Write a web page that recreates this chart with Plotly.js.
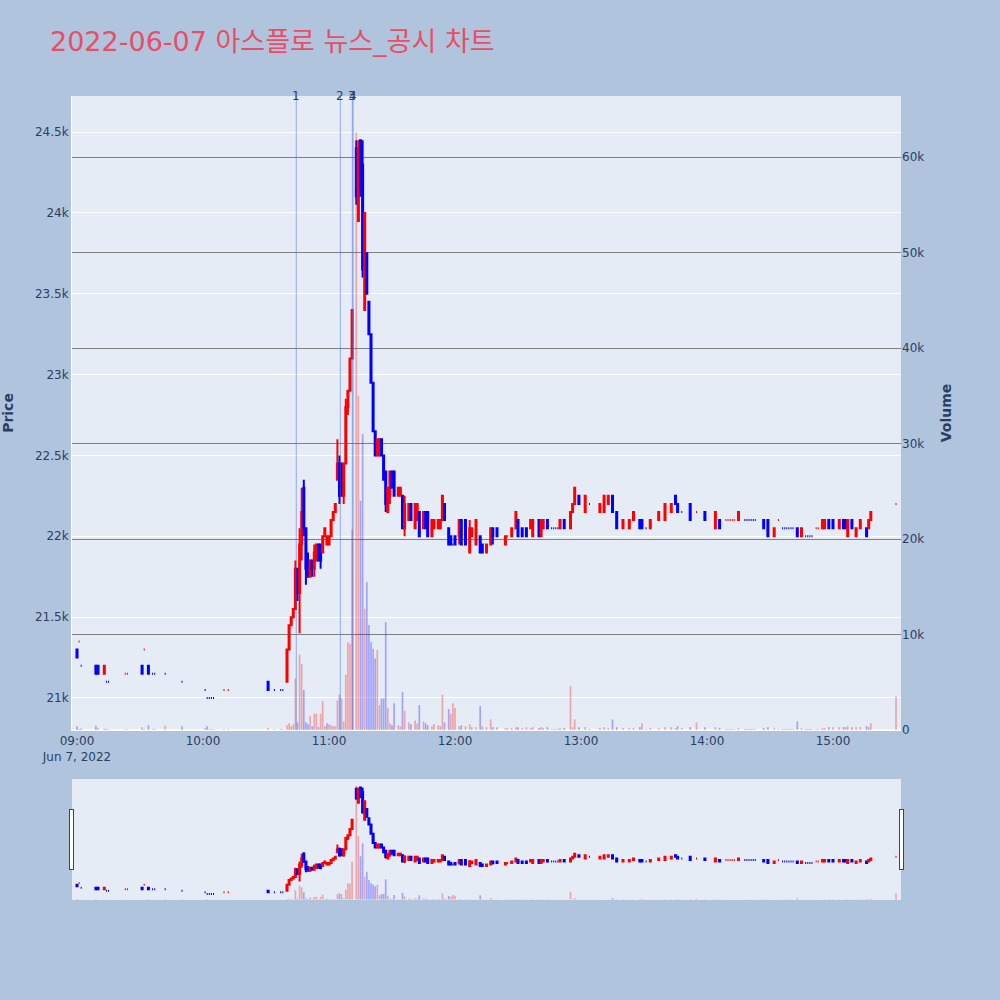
<!DOCTYPE html>
<html>
<head>
<meta charset="utf-8">
<script src="https://cdn.plot.ly/plotly-3.0.1.min.js"></script>
<style>html,body{margin:0;padding:0;background:#B0C4DE;}</style>
</head>
<body>
<div id="chart" style="width:1000px;height:1000px;"></div>
<script>
const chartTitle = '2022-06-07 아스플로 뉴스_공시 차트';
const tradeDate = '2022-06-07';

const times = [
 '09:00','09:01','09:02','09:09','09:10','09:13','09:14','09:15','09:23','09:24',
 '09:31','09:32','09:34','09:36','09:37','09:42','09:50','10:01','10:02','10:03',
 '10:04','10:05','10:10','10:12','10:31','10:34','10:37','10:38','10:40','10:41',
 '10:42','10:43','10:44','10:45','10:46','10:47','10:48','10:49','10:50','10:51',
 '10:52','10:53','10:54','10:55','10:56','10:57','10:58','10:59','11:00','11:01',
 '11:02','11:03','11:04','11:05','11:06','11:07','11:08','11:09','11:10','11:11',
 '11:13','11:14','11:15','11:16','11:17','11:18','11:19','11:20','11:21','11:22',
 '11:23','11:24','11:25','11:26','11:27','11:28','11:29','11:30','11:31','11:33',
 '11:34','11:35','11:36','11:38','11:39','11:41','11:42','11:43','11:45','11:46',
 '11:47','11:49','11:50','11:52','11:53','11:54','11:55','11:57','11:58','11:59',
 '12:00','12:02','12:03','12:05','12:07','12:08','12:10','12:12','12:13','12:15',
 '12:17','12:18','12:20','12:24','12:25','12:27','12:29','12:30','12:32','12:34',
 '12:36','12:37','12:40','12:41','12:42','12:44','12:46','12:47','12:48','12:49',
 '12:50','12:52','12:55','12:56','12:57','12:59','13:02','13:04','13:09','13:11',
 '13:13','13:15','13:17','13:20','13:23','13:25','13:28','13:29','13:31','13:33',
 '13:37','13:40','13:43','13:45','13:46','13:48','13:52','13:55','13:59','14:04',
 '14:06','14:09','14:10','14:11','14:12','14:13','14:15','14:18','14:19','14:20',
 '14:21','14:22','14:23','14:27','14:29','14:32','14:34','14:36','14:37','14:38',
 '14:39','14:40','14:41','14:43','14:45','14:47','14:48','14:49','14:50','14:52',
 '14:53','14:55','14:56','14:58','15:00','15:03','15:05','15:06','15:07','15:09',
 '15:11','15:13','15:16','15:17','15:18','15:30'
];
const opens = [
 21300,21350,21200,21200,21200,21150,21100,21100,21150,21150,
 21200,21300,21200,21150,21150,21150,21100,21050,21000,21000,
 21000,21000,21050,21050,21100,21050,21050,21050,21100,21300,
 21450,21500,21550,21800,21650,21950,22300,22050,21850,21750,
 21850,21800,21850,21950,21950,21900,22000,21950,21950,22000,
 22100,22150,22350,22450,22450,22250,22450,22800,22900,23100,
 24400,23950,24450,24300,23400,23750,23450,23250,22950,22650,
 22500,22500,22600,22500,22400,22150,22250,22400,22400,22250,
 22250,22250,22050,22100,22200,22050,22100,22150,22050,22150,
 22150,22000,22050,22050,22050,22100,22200,22050,22000,21950,
 22000,22000,22100,22100,21900,22000,21950,22000,21950,21900,
 21950,22050,22050,21950,22000,22000,22050,22100,22050,22050,
 22050,22000,22100,22000,22050,22100,22050,22050,22050,22050,
 22050,22100,22050,22150,22200,22250,22150,22200,22150,22150,
 22200,22250,22150,22050,22050,22100,22100,22100,22050,22050,
 22100,22100,22150,22250,22200,22150,22200,22150,22150,22050,
 22100,22100,22100,22100,22100,22100,22100,22100,22100,22100,
 22100,22100,22100,22100,22100,22000,22100,22050,22050,22050,
 22050,22050,22050,22050,22000,22000,22000,22000,22000,22050,
 22050,22050,22050,22100,22100,22050,22100,22100,22000,22100,
 22000,22050,22050,22050,22100,22200
];
const highs = [
 21300,21350,21200,21200,21200,21200,21100,21100,21150,21150,
 21200,21300,21200,21150,21150,21150,21100,21050,21000,21000,
 21000,21000,21050,21050,21100,21050,21050,21050,21300,21450,
 21500,21550,21850,21800,22050,22300,22350,22050,21900,21850,
 21850,21950,21950,21950,21950,22000,22050,22000,22000,22100,
 22150,22200,22600,22500,22450,22450,22850,22900,23100,23400,
 24450,24450,24450,24450,24000,23750,23450,23250,22950,22650,
 22600,22600,22600,22500,22400,22300,22400,22400,22400,22300,
 22300,22250,22250,22200,22200,22200,22200,22150,22150,22150,
 22150,22100,22100,22100,22100,22250,22200,22050,22000,21950,
 22000,22100,22100,22100,22100,22050,22100,22000,21950,21950,
 22050,22050,22050,22000,22000,22050,22150,22100,22050,22050,
 22100,22100,22100,22100,22100,22100,22050,22050,22050,22050,
 22100,22100,22150,22200,22300,22250,22250,22200,22200,22250,
 22250,22250,22150,22100,22100,22150,22100,22100,22050,22100,
 22150,22200,22200,22250,22200,22150,22200,22150,22150,22150,
 22100,22100,22100,22100,22100,22100,22150,22100,22100,22100,
 22100,22100,22100,22100,22100,22050,22100,22050,22050,22050,
 22050,22050,22050,22050,22050,22000,22000,22000,22000,22050,
 22050,22100,22100,22100,22100,22100,22100,22100,22100,22100,
 22050,22100,22050,22100,22150,22200
];
const lows = [
 21250,21350,21200,21150,21150,21150,21100,21100,21150,21150,
 21150,21300,21150,21150,21150,21150,21100,21050,21000,21000,
 21000,21000,21050,21050,21050,21050,21050,21050,21100,21300,
 21450,21500,21550,21600,21400,21850,22000,21700,21750,21750,
 21750,21750,21850,21850,21800,21900,22000,21950,21950,22000,
 22100,22150,22350,22200,22250,22200,22450,22750,22900,23100,
 24050,23950,24100,23600,23400,23500,23250,22950,22650,22500,
 22500,22500,22500,22350,22150,22150,22200,22300,22250,22250,
 22250,22050,22000,22100,22100,22050,22100,22000,22050,22050,
 22000,22000,22050,22050,22050,22100,22100,21950,21950,21950,
 21950,21950,21950,21950,21900,22000,21950,21900,21900,21900,
 21950,21950,22000,21950,22000,22000,22050,22000,22000,22000,
 22050,22000,22000,22000,22050,22050,22050,22050,22050,22050,
 22050,22050,22050,22150,22200,22200,22150,22200,22150,22150,
 22200,22150,22050,22050,22050,22100,22050,22050,22050,22050,
 22100,22100,22150,22200,22150,22150,22100,22150,22100,22050,
 22050,22100,22100,22100,22100,22100,22100,22100,22100,22100,
 22100,22100,22100,22050,22000,22000,22100,22050,22050,22050,
 22050,22050,22050,22000,22000,22000,22000,22000,22000,22050,
 22050,22050,22050,22050,22050,22050,22050,22050,22000,22050,
 22000,22050,22000,22050,22100,22200
];
const closes = [
 21250,21350,21200,21150,21150,21200,21100,21100,21150,21150,
 21150,21300,21150,21150,21150,21150,21100,21050,21000,21000,
 21000,21000,21050,21050,21050,21050,21050,21050,21300,21450,
 21500,21550,21800,21650,21950,22150,22050,21800,21750,21850,
 21800,21900,21950,21850,21850,22000,22050,22000,22000,22100,
 22150,22200,22450,22250,22250,22450,22800,22900,23100,23400,
 24100,24400,24150,23650,24000,23500,23250,22950,22650,22500,
 22600,22600,22500,22350,22200,22300,22400,22300,22250,22300,
 22300,22050,22200,22200,22100,22200,22200,22000,22150,22050,
 22000,22100,22100,22100,22100,22250,22100,21950,21950,21950,
 21950,22100,21950,21950,22050,22050,22100,21900,21900,21950,
 22050,22000,22000,22000,22000,22050,22150,22000,22000,22000,
 22100,22100,22000,22100,22100,22050,22050,22050,22050,22050,
 22100,22050,22150,22200,22300,22200,22250,22200,22200,22250,
 22250,22150,22050,22100,22100,22150,22050,22050,22050,22100,
 22150,22200,22200,22200,22150,22150,22100,22150,22100,22150,
 22050,22100,22100,22100,22100,22100,22150,22100,22100,22100,
 22100,22100,22100,22050,22000,22050,22100,22050,22050,22050,
 22050,22050,22050,22000,22050,22000,22000,22000,22000,22050,
 22050,22100,22100,22050,22050,22100,22050,22050,22100,22050,
 22050,22100,22000,22100,22150,22200
];
const volumes = [
 400,100,150,450,200,150,100,100,80,80,
 300,100,500,100,100,450,400,150,400,100,
 100,100,100,100,200,100,100,100,500,700,
 400,600,5400,800,7900,6900,4200,800,600,1500,
 400,1700,1700,300,1700,3000,400,700,600,500,
 400,400,3100,3700,3300,900,5800,9200,9000,21000,
 62600,35000,24000,31000,12700,15500,11000,9200,8500,7500,
 8400,2600,3300,3300,11300,2300,700,500,2800,500,
 400,4000,2000,800,600,1000,700,2600,900,700,
 500,400,600,500,400,3700,800,2200,1700,2800,
 2300,400,500,400,600,300,300,2500,400,300,
 1100,300,300,200,200,200,300,300,200,300,
 200,300,200,300,200,300,100,100,100,100,
 200,200,4600,300,1100,300,300,100,200,300,
 200,1100,300,200,200,200,300,700,100,200,
 200,300,300,200,400,200,300,800,300,300,
 200,100,100,100,100,100,200,100,100,100,
 100,100,100,200,300,200,100,100,100,100,
 100,100,100,900,200,100,100,100,100,100,
 100,200,200,300,300,300,300,300,400,300,
 300,300,400,300,700,3500
];
const newsTimes = ['10:44:25','11:05:24','11:11:06','11:11:30'];
const newsLabels = ['1','2','3','4'];

const xs = times.map(t => tradeDate + ' ' + t);
const volColors = closes.map((c, i) => {
  const ref = i === 0 ? opens[0] : closes[i - 1];
  return c >= ref ? 'red' : 'blue';
});
const xRange = [tradeDate + ' 08:57:37', tradeDate + ' 15:32:23'];
const baseFont = '"DejaVu Sans", Verdana, sans-serif';

const candle = {
  type: 'candlestick', x: xs, open: opens, high: highs, low: lows, close: closes,
  increasing: {line: {color: 'red', width: 2}, fillcolor: 'red'},
  decreasing: {line: {color: 'blue', width: 2}, fillcolor: 'blue'},
  xaxis: 'x', yaxis: 'y', name: 'Price', showlegend: false
};
const vol = {
  type: 'bar', x: xs, y: volumes, marker: {color: volColors}, opacity: 0.3,
  xaxis: 'x', yaxis: 'y2', name: 'Volume', showlegend: false
};

const shapes = newsTimes.map(t => ({
  type: 'line', xref: 'x', yref: 'paper', x0: tradeDate + ' ' + t, x1: tradeDate + ' ' + t,
  y0: 0, y1: 1, line: {color: 'rgba(65,105,225,0.5)', width: 1}
}));
const annotations = newsTimes.map((t, i) => ({
  x: tradeDate + ' ' + t, y: 1, xref: 'x', yref: 'paper', text: newsLabels[i],
  xanchor: 'center', yanchor: 'middle',
  showarrow: false, font: {size: 12, color: '#2a3f5f'}
}));

const layout = {
  width: 1000, height: 1000,
  paper_bgcolor: '#B0C4DE', plot_bgcolor: '#E5ECF6',
  font: {family: baseFont, color: '#2a3f5f', size: 12},
  title: {text: chartTitle, x: 0.05, xanchor: 'left', y: 0.958, yanchor: 'middle',
          font: {family: '"DejaVu Sans", "Noto Sans CJK KR", sans-serif', size: 27, color: '#EB4D64'}},
  margin: {l: 72, r: 99, t: 96, b: 100},
  showlegend: false,
  hovermode: false,
  xaxis: {type: 'date', range: xRange, showgrid: false, zeroline: false, linecolor: 'white', ticks: '',
          rangeslider: {visible: true, range: xRange}},
  yaxis: {title: {text: '<b>Price</b>', font: {size: 14}, standoff: 18}, range: [20802, 24723], dtick: 500,
          gridcolor: 'white', gridwidth: 1, zeroline: false, linecolor: 'white', ticks: ''},
  yaxis2: {title: {text: '<b>Volume</b>', font: {size: 14}, standoff: 17}, overlaying: 'y', side: 'right',
           range: [0, 66400], dtick: 10000, gridcolor: 'gray', gridwidth: 1,
           zeroline: true, zerolinecolor: 'white', zerolinewidth: 2, ticks: ''},
  shapes: shapes,
  annotations: annotations
};

Plotly.newPlot('chart', [candle, vol], layout, {displayModeBar: false, staticPlot: true});
</script>
</body>
</html>
